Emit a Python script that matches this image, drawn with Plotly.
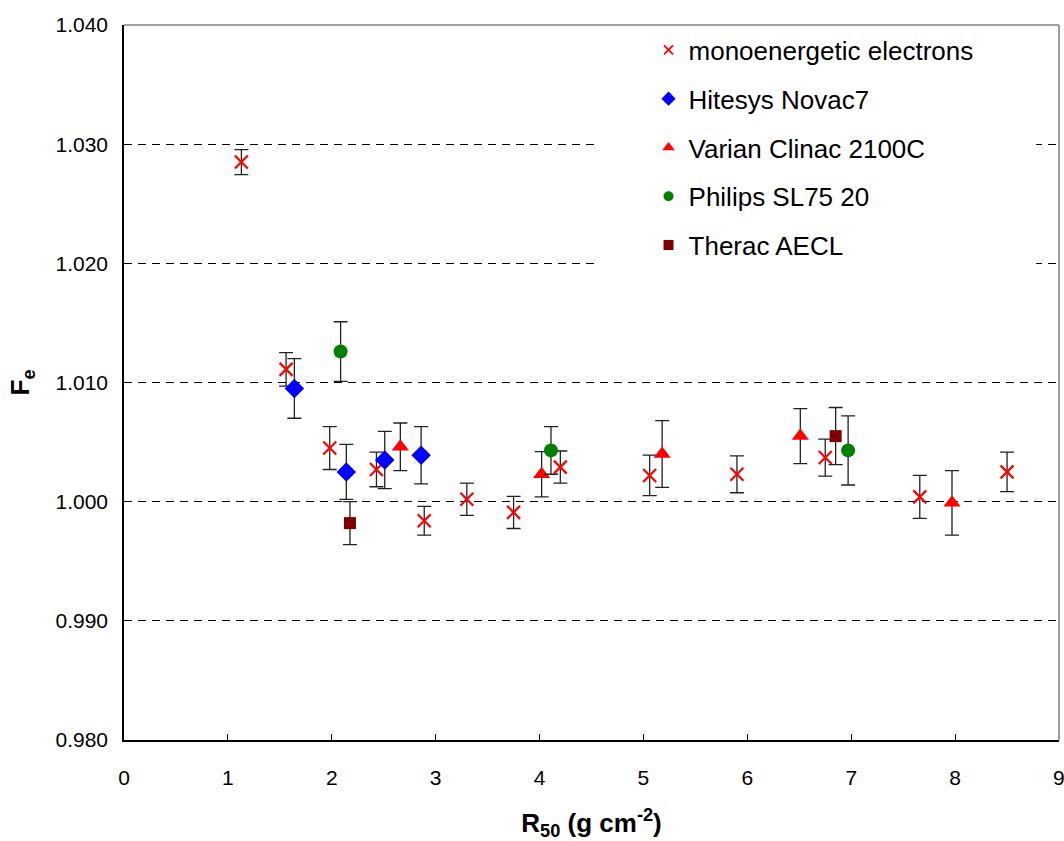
import plotly.graph_objects as go

# ---- data ----
mono_x = [1.13, 1.56, 1.98, 2.43, 2.89, 3.30, 3.75, 4.20, 5.06, 5.90, 6.75, 7.66, 8.50]
mono_y = [1.0285, 1.0111, 1.0045, 1.0027, 0.9984, 1.0002, 0.9991, 1.0029, 1.0022, 1.0023, 1.0037, 1.0004, 1.0025]
mono_err = [0.00105, 0.0014, 0.0018, 0.00145, 0.0012, 0.00135, 0.00135, 0.00135, 0.0017, 0.00155, 0.00155, 0.0018, 0.00165]

hit_x = [1.64, 2.14, 2.51, 2.86]
hit_y = [1.0095, 1.0025, 1.0035, 1.0039]
hit_err = [0.0025, 0.0023, 0.0024, 0.0024]

var_x = [2.66, 4.02, 5.18, 6.51, 7.97]
var_y = [1.0046, 1.0023, 1.0040, 1.0055, 0.9999]
var_err = [0.0020, 0.0019, 0.0028, 0.0023, 0.0027]

phil_x = [2.085, 4.11, 6.97]
phil_y = [1.0126, 1.0043, 1.0043]
phil_err = [0.0025, 0.0020, 0.0029]

ther_x = [2.175, 6.85]
ther_y = [0.9982, 1.0055]
ther_err = [0.0018, 0.0024]

names = ["monoenergetic electrons", "Hitesys Novac7", "Varian Clinac 2100C", "Philips SL75 20", "Therac AECL"]
y_ticks = [0.980, 0.990, 1.000, 1.010, 1.020, 1.030, 1.040]
x_ticks = list(range(0, 10))

FONT = "Liberation Sans, Arial, sans-serif"

series = [
    (mono_x, mono_y, mono_err, dict(symbol="x-thin", size=13, color="red", line=dict(color="red", width=2.2)),
     dict(symbol="x-thin", size=9, color="red", line=dict(color="red", width=1.8))),
    (hit_x, hit_y, hit_err, dict(symbol="diamond", size=15, color="#0000FF", line=dict(width=0)),
     dict(symbol="diamond", size=11, color="#0000FF", line=dict(width=0))),
    (var_x, var_y, var_err, dict(symbol="triangle-up", size=15, color="#FF0000", line=dict(width=0)),
     dict(symbol="triangle-up", size=11, color="#FF0000", line=dict(width=0))),
    (phil_x, phil_y, phil_err, dict(symbol="circle", size=14, color="#008000", line=dict(width=0)),
     dict(symbol="circle", size=10, color="#008000", line=dict(width=0))),
    (ther_x, ther_y, ther_err, dict(symbol="square", size=12, color="#800000", line=dict(width=0)),
     dict(symbol="square", size=10, color="#800000", line=dict(width=0))),
]

fig = go.Figure()
for i, (xs, ys, es, mk, lmk) in enumerate(series):
    fig.add_trace(go.Scatter(
        x=xs, y=ys, mode="markers", marker=mk, showlegend=False,
        error_y=dict(type="data", array=es, visible=True, color="#222222", thickness=1.3, width=7),
    ))
for i, (xs, ys, es, mk, lmk) in enumerate(series):
    fig.add_trace(go.Scatter(
        x=[None], y=[None], mode="markers", marker=lmk, name=names[i],
        legendgroup=f"g{i}", showlegend=True,
    ))

# white cover behind legend (hides gridlines, as in the original)
fig.add_shape(type="rect", xref="x", yref="y", x0=4.54, x1=8.78, y0=1.0175, y1=1.0399,
              fillcolor="white", line=dict(width=0), layer="between")
# grey top and right plot-area border
fig.add_shape(type="line", xref="x domain", yref="y domain", x0=0, x1=1, y0=1, y1=1,
              line=dict(color="#808080", width=1.5), layer="above")
fig.add_shape(type="line", xref="x domain", yref="y domain", x0=1, x1=1, y0=0, y1=1,
              line=dict(color="#808080", width=1.5), layer="above")

# last x tick label (sits on the page edge, so plotly would drop it)
fig.add_annotation(x=x_ticks[-1], xref="x", y=0, yref="paper", yanchor="top",
                   text=str(x_ticks[-1]), showarrow=False, yshift=-24,
                   font=dict(size=21, family=FONT, color="black"))

fig.update_layout(
    width=1064, height=841,
    margin=dict(l=124, r=5, t=25, b=101),
    paper_bgcolor="white", plot_bgcolor="white",
    font=dict(family=FONT, color="black", size=21),
    showlegend=True,
    legend=dict(
        x=0.561, y=0.998, xanchor="left", yanchor="top",
        bgcolor="rgba(0,0,0,0)", borderwidth=0,
        font=dict(size=26, family=FONT, color="black"),
        tracegroupgap=12, traceorder="grouped",
    ),
    xaxis=dict(
        range=[0, 9], tickvals=x_ticks[:-1], ticktext=[str(v) for v in x_ticks[:-1]],
        showgrid=False, zeroline=False,
        showline=True, linecolor="black", linewidth=1.5,
        ticks="inside", ticklen=6, tickcolor="black", tickwidth=1,
        tickfont=dict(size=21), ticklabelstandoff=18,
        title=dict(text="<b>R<sub>50</sub> (g cm<sup>-2</sup>)</b>", font=dict(size=26), standoff=28),
    ),
    yaxis=dict(
        range=[0.980, 1.040], tickvals=y_ticks, ticktext=[f"{v:.3f}" for v in y_ticks],
        showgrid=True, gridcolor="black", gridwidth=1, griddash="8px,6px",
        zeroline=False,
        showline=True, linecolor="black", linewidth=1.5,
        ticks="inside", ticklen=5, tickcolor="black", tickwidth=1,
        tickfont=dict(size=21), ticklabelstandoff=10,
        title=dict(text="<b>F<sub>e</sub></b>", font=dict(size=26), standoff=18),
    ),
)

fig.write_html("out.html")
